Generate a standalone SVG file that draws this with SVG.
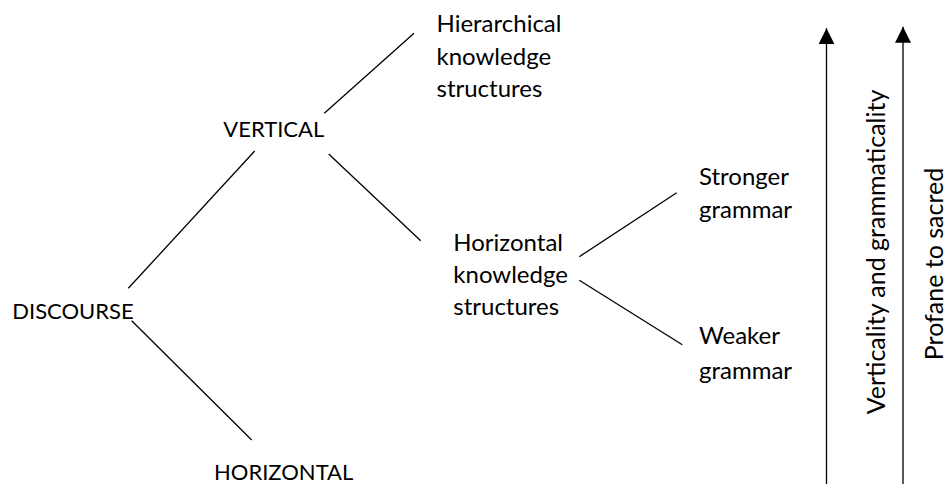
<svg xmlns="http://www.w3.org/2000/svg" width="946" height="484" viewBox="0 0 946 484">
  <style>
    text { font-family: Lato, "Open Sans", "Liberation Sans", sans-serif; font-size: 24px; fill: #000; }
    text.caps { font-size: 22px; }
    .edge { stroke: #000; stroke-width: 1.3; fill: none; }
    .axis { stroke: #000; stroke-width: 1.3; fill: none; marker-end: url(#head); }
  </style>
  <defs>
    <marker id="head" viewBox="0 0 16 16" refX="16" refY="8" markerWidth="16" markerHeight="16" markerUnits="userSpaceOnUse" orient="auto">
      <path d="M0,0 L16,8 L0,16 Z" fill="#000"/>
    </marker>
  </defs>

  <!-- tree edges -->
  <g id="connectors">
    <line class="edge" x1="324.3" y1="113.3" x2="414" y2="33.3"/>
    <line class="edge" x1="254.7" y1="151" x2="128.3" y2="288.3"/>
    <line class="edge" x1="328.7" y1="154" x2="420.7" y2="240.7"/>
    <line class="edge" x1="131.7" y1="320.7" x2="251.7" y2="440"/>
    <line class="edge" x1="579.3" y1="256.7" x2="676.7" y2="192.7"/>
    <line class="edge" x1="579.3" y1="280.3" x2="682.3" y2="344.7"/>
  </g>

  <g id="discourse">
    <text class="caps" x="12.3" y="319.3">DISCOURSE</text>
  </g>
  <g id="vertical">
    <text class="caps" x="223.3" y="137">VERTICAL</text>
  </g>
  <g id="horizontal">
    <text class="caps" x="214" y="479.5">HORIZONTAL</text>
  </g>
  <g id="hierarchical">
    <text x="436.5" y="32.3">Hierarchical</text>
    <text x="436.5" y="64.8">knowledge</text>
    <text x="436.5" y="97.3">structures</text>
  </g>
  <g id="horizontal-knowledge">
    <text x="453.3" y="250.6">Horizontal</text>
    <text x="453.3" y="283">knowledge</text>
    <text x="453.3" y="315.4">structures</text>
  </g>
  <g id="stronger">
    <text x="699" y="185">Stronger</text>
    <text x="699" y="218.3">grammar</text>
  </g>
  <g id="weaker">
    <text x="699" y="344.4">Weaker</text>
    <text x="699" y="378.5">grammar</text>
  </g>

  <!-- scale arrows -->
  <g id="verticality-axis">
    <line class="axis" x1="826.5" y1="484" x2="826.5" y2="28.3"/>
    <text transform="translate(885,252) rotate(-90)" text-anchor="middle" style="font-size:25px">Verticality and grammaticality</text>
  </g>
  <g id="profane-axis">
    <line class="axis" x1="903" y1="484" x2="903" y2="26.7"/>
    <text transform="translate(942.5,264) rotate(-90)" text-anchor="middle" style="font-size:25px">Profane to sacred</text>
  </g>
</svg>
